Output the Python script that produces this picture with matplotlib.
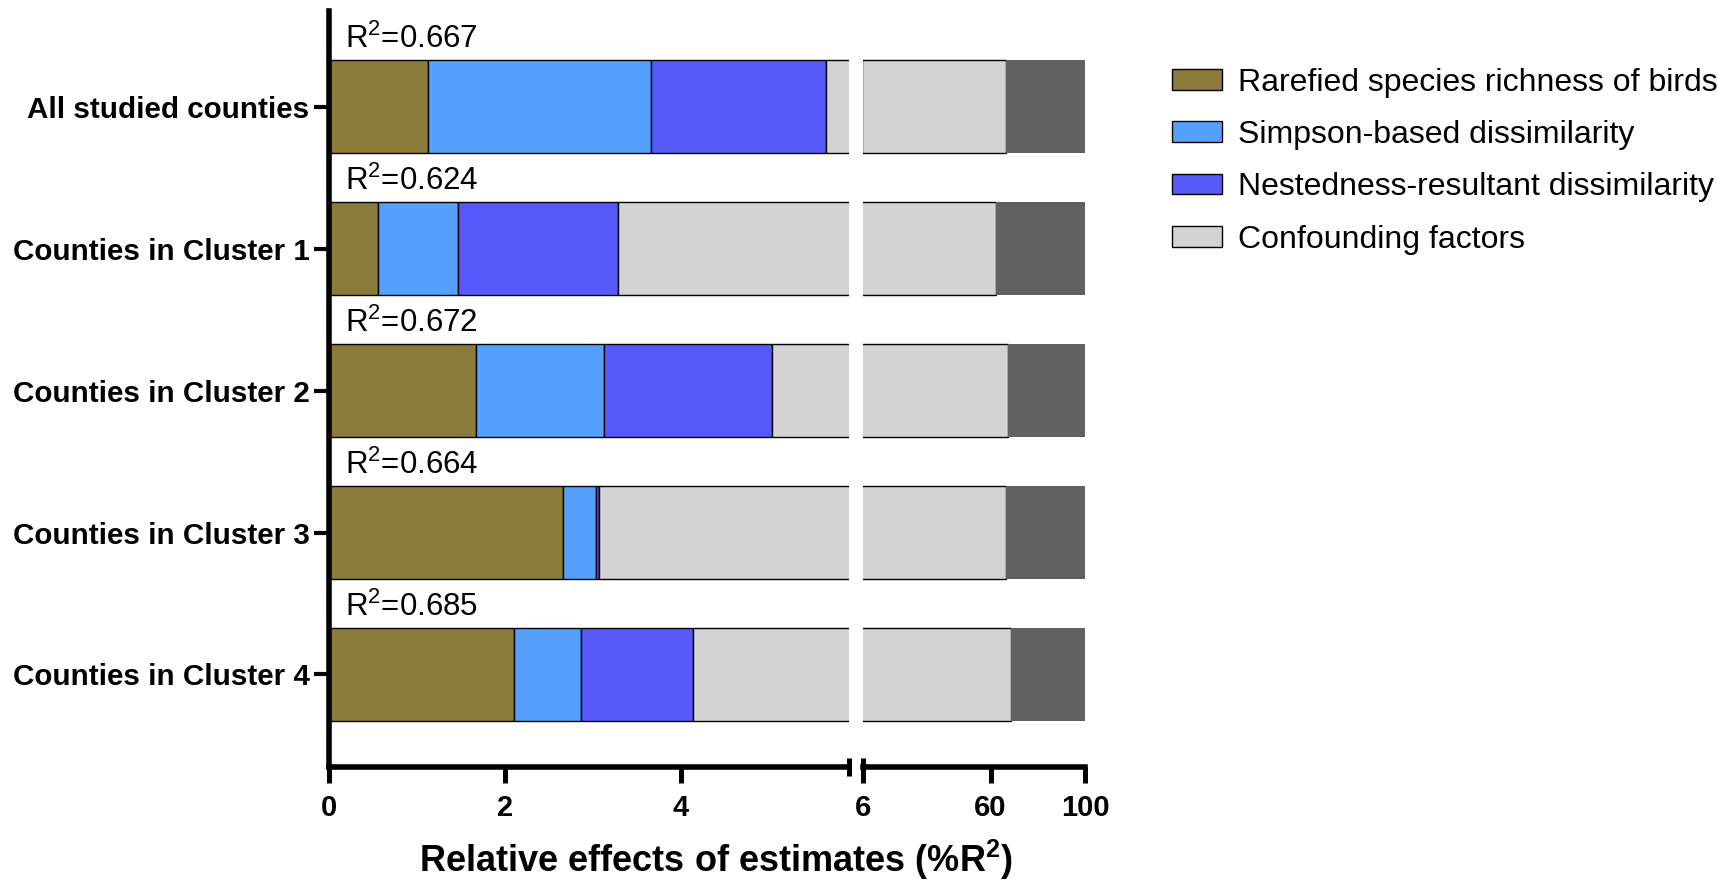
import numpy as np
import matplotlib
matplotlib.use('Agg')
import matplotlib.pyplot as plt

plt.rcParams['font.family'] = ['Liberation Sans', 'DejaVu Sans']
plt.rcParams['mathtext.fontset'] = 'custom'
plt.rcParams['mathtext.rm'] = 'Liberation Sans'
plt.rcParams['mathtext.bf'] = 'Liberation Sans:bold'

# data (% of R2)
groups = ['All studied counties', 'Counties in Cluster 1', 'Counties in Cluster 2',
          'Counties in Cluster 3', 'Counties in Cluster 4']
r2 = [0.667, 0.624, 0.672, 0.664, 0.685]
birds = [1.13, 0.56, 1.67, 2.66, 2.10]
simpson = [2.53, 0.91, 1.45, 0.38, 0.76]
nested = [1.99, 1.82, 1.92, 0.03, 1.28]
confounding = [61.05, 59.11, 62.16, 63.33, 64.36]
unexplained = [33.3, 37.6, 32.8, 33.6, 31.5]

series = [
    (birds, '#8B7B3A', 'Rarefied species richness of birds'),
    (simpson, '#55A0FC', 'Simpson-based dissimilarity'),
    (nested, '#5759FA', 'Nestedness-resultant dissimilarity'),
    (confounding, '#D3D3D3', 'Confounding factors'),
]

W, H = 1718, 883
fig = plt.figure(figsize=(W / 100, H / 100), dpi=100)
bot = 1 - 767 / H
top = 1 - 11 / H
ax1 = fig.add_axes([329 / W, bot, (849 - 329) / W, top - bot])
ax2 = fig.add_axes([863 / W, bot, (1085 - 863) / W, top - bot])

y = np.arange(len(groups))
bar_h = 0.656
for ax in (ax1, ax2):
    left = np.zeros(len(groups))
    for vals, col, lab in series:
        ax.barh(y, vals, left=left, height=bar_h, color=col,
                edgecolor='black', linewidth=1.0, label=lab)
        left += np.array(vals)
    ax.barh(y, unexplained, left=left, height=bar_h, color='#616161', linewidth=0)
    ax.set_ylim(4.652, -0.676)
    for s in ('top', 'right'):
        ax.spines[s].set_visible(False)
    ax.spines['bottom'].set_linewidth(4)
    ax.tick_params(axis='x', length=11.5, width=3.6, pad=8, labelsize=21)

ax1.set_xlim(0, 5.91)
ax1.set_xticks([0, 2, 4])
ax2.set_xlim(6, 100)
ax2.set_xticks([6, 60, 100])

ax1.spines['left'].set_linewidth(4)
ax1.set_yticks(y)
ax1.set_yticklabels(groups, fontsize=21.3, fontweight='bold')
ax1.tick_params(axis='y', length=11, width=3, pad=3)
ax2.spines['left'].set_visible(False)
ax2.set_yticks([])

for ax in (ax1, ax2):
    for lbl in ax.get_xticklabels():
        lbl.set_fontweight('bold')

# axis break marks
ax1.plot([1], [0], marker='|', markersize=13, mew=3.6, color='black',
         transform=ax1.transAxes, clip_on=False)
ax2.plot([0], [0], marker='|', markersize=13, mew=3.6, color='black',
         transform=ax2.transAxes, clip_on=False)

for i, r in enumerate(r2):
    ax1.text(0.18, i - 0.413, r'R$^2$=' + f'{r:.3f}', fontsize=22.5,
             ha='left', va='baseline')

fig.text(0.417, 1 - 872 / H, r'Relative effects of estimates (%R$^{\mathbf{2}}$)',
         fontsize=26, fontweight='bold', ha='center', va='baseline')

handles, labels = ax1.get_legend_handles_labels()
fig.legend(handles[:4], labels[:4], loc='upper left', bbox_to_anchor=(1172 / W, 0.9235),
           frameon=False, fontsize=23, handlelength=1.56, handleheight=0.63,
           handletextpad=0.5, labelspacing=0.7, borderpad=0, borderaxespad=0)

fig.savefig('out.png', dpi=100)
